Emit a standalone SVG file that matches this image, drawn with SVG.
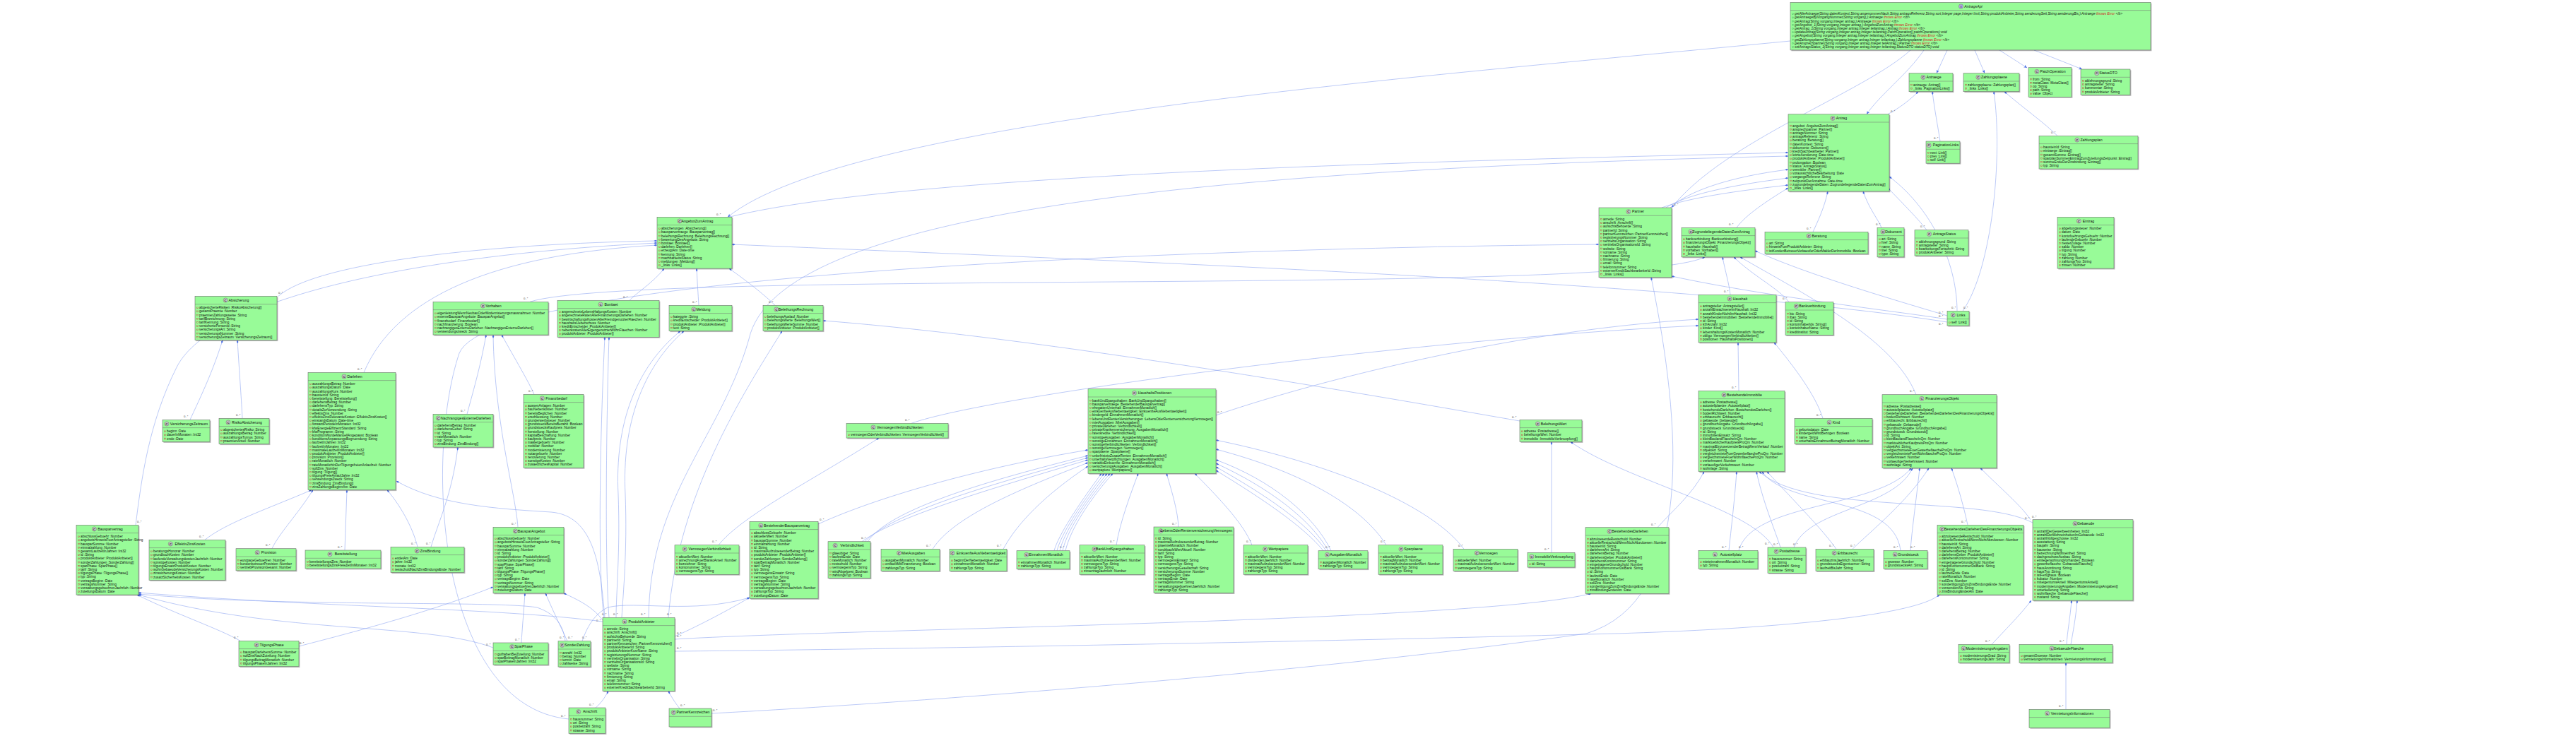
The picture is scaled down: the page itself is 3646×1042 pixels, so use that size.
<svg xmlns="http://www.w3.org/2000/svg" width="3646" height="1042" viewBox="0 0 3646 1042">
<style>
.bx{fill:#98fb98;stroke:#707070;stroke-width:.6}
.sh{fill:#000;opacity:.28;filter:url(#bl);transform:translate(1.4px,1.4px)}
.sp{stroke:#707070;stroke-width:.5;fill:none}
.ci{fill:#c4c4c4;stroke:#5a5a5a;stroke-width:.4}
.ii{fill:#b4a7e5;stroke:#5a5a5a;stroke-width:.4}
.cl{font-family:"Liberation Sans",Arial,sans-serif;font-size:4.4px;font-weight:bold;fill:#222;text-anchor:middle}
.tt{font-family:"Liberation Sans",Arial,sans-serif;font-size:5.2px;fill:#111;text-anchor:middle}
.f{font-family:"Liberation Sans",Arial,sans-serif;font-size:4.8px;fill:#111}
.it{font-style:italic}
.r{fill:#d02020}
.fm{fill:url(#pm)}
.mm{fill:url(#po)}
.c{fill:none;stroke:#8ea6f2;stroke-width:.6}
.k{marker-start:url(#d)}
.a{marker-end:url(#ar)}
.m{font-family:"Liberation Sans",Arial,sans-serif;font-size:4.2px;fill:#444}
</style>
<defs>
<filter id="bl" x="-10%" y="-10%" width="120%" height="120%"><feGaussianBlur stdDeviation="0.7"/></filter>
<pattern id="pm" patternUnits="userSpaceOnUse" x="2.2" y="15.1" width="2.6" height="5.2"><rect x="0.25" y="0.25" width="2" height="2" fill="none" stroke="#c82930" stroke-width="0.45"/></pattern>
<pattern id="po" patternUnits="userSpaceOnUse" x="2.2" y="15.1" width="2.6" height="5.2"><circle cx="1.3" cy="1.25" r="0.95" fill="none" stroke="#1a8a3a" stroke-width="0.45"/></pattern>
<marker id="d" markerWidth="6" markerHeight="4" refX="0" refY="1.3" orient="auto" markerUnits="userSpaceOnUse" overflow="visible"><path d="M0,1.3L2.3,0L4.6,1.3L2.3,2.6z" fill="#4a6de5"/></marker>
<marker id="ar" markerWidth="6" markerHeight="5" refX="4.6" refY="2" orient="auto" markerUnits="userSpaceOnUse" overflow="visible"><path d="M0,0L4.6,2L0,4L1.2,2z" fill="#4a6de5"/></marker>
</defs>
<rect width="3646" height="1042" fill="#ffffff"/>

<g id="connectors">
<path class="c a" d="M2756,71 L2741,103.7"/>
<path class="c a" d="M2795,71 L2809,103.7"/>
<path class="c a" d="M2830,71 L2869,96"/>
<path class="c a" d="M2879,71 L2947,98"/>
<path class="c a" d="M2723,71 C2700,105 2660,135 2642,161.7"/>
<path class="c a" d="M2704,71 C2640,130 2440,200 2366,294"/>
<path class="c a" d="M2534,58 C2000,110 1200,170 1030,307.3"/>

<path class="c k" d="M2715,129.7 C2705,140 2690,152 2672,161.7"/><text class="m" x="2676" y="159">0..*</text>
<path class="c k" d="M2735,129.7 C2738,155 2743,180 2746,200"/><text class="m" x="2737" y="197">0..*</text>
<path class="c k" d="M2837,129.7 C2860,150 2895,175 2912,192.3"/><text class="m" x="2903" y="189">0..*</text>
<path class="c k" d="M2822,129.7 C2835,220 2820,380 2778,440.3"/><text class="m" x="2779" y="437">0..*</text>

<path class="c k" d="M2531,240 C2450,250 2390,270 2364,294"/><text class="m" x="2369" y="291">0..*</text>
<path class="c k" d="M2531,252 C2450,262 2385,276 2358,294"/>
<path class="c k" d="M2531,262 C2460,270 2390,280 2352,294"/>
<path class="c k" d="M2587,270.9 C2582,295 2572,315 2566,328.3"/><text class="m" x="2557" y="325">0..*</text>
<path class="c k" d="M2637,270.9 C2645,295 2658,310 2663,322.3"/><text class="m" x="2655" y="319">0..*</text>
<path class="c k" d="M2672,266 C2695,290 2715,310 2727,325.7"/><text class="m" x="2718" y="322">0..*</text>
<path class="c k" d="M2531,266 C2500,285 2470,305 2458,322.3"/><text class="m" x="2447" y="319">0..*</text>
<path class="c k" d="M2531,216 C2200,225 1300,240 1032,307.3"/><text class="m" x="1014" y="305">0..*</text>
<path class="c k" d="M2531,221 C1700,240 1100,300 1060,480 C1020,620 920,700 918,874.3"/><text class="m" x="907" y="871">0..*</text>
<path class="c k" d="M2674,250 C2740,300 2770,380 2770,440.3"/><text class="m" x="2762" y="437">0..*</text>

<path class="c k" d="M2366,391 C2500,420 2680,440 2756,452"/><text class="m" x="2744" y="449">0..*</text>
<path class="c k" d="M2263,346 C1800,350 700,380 650,500 C600,650 620,1000 805,1018"/><text class="m" x="794" y="1015">0..*</text>
<path class="c k" d="M2337,392.8 C2380,600 2400,850 2245,897 C1800,960 1200,1000 1007,1010"/><text class="m" x="1009" y="1007">0..*</text>

<path class="c k" d="M2454,363.9 C2480,390 2520,410 2532,427.7"/><text class="m" x="2523" y="424">0..*</text>
<path class="c k" d="M2438,363.9 C2442,385 2447,400 2449,417.3"/><text class="m" x="2440" y="414">0..*</text>
<path class="c k" d="M2463,363.9 C2560,420 2680,480 2712,558.7"/><text class="m" x="2703" y="555">0..*</text>
<path class="c k" d="M2413,363.9 C2300,420 900,380 750,427.3"/><text class="m" x="741" y="424">0..*</text>
<path class="c k" d="M2484,355 C2560,390 2700,430 2756,447"/><text class="m" x="2744" y="444">0..*</text>

<path class="c k" d="M2460,484.9 L2461,553.3"/><text class="m" x="2451" y="550">0..*</text>
<path class="c k" d="M2511,484.9 C2540,520 2570,560 2580,592.3"/><text class="m" x="2571" y="589">0..*</text>
<path class="c k" d="M2404,461 C2000,480 1400,560 1290,599.3"/><text class="m" x="1281" y="596">0..*</text>
<path class="c k" d="M2404,452 C2100,470 1800,560 1721,588"/><text class="m" x="1723" y="585">0..*</text>

<path class="c k" d="M2412,667.7 C2395,700 2370,720 2346,746.7"/><text class="m" x="2337" y="744">0..*</text>
<path class="c k" d="M2458,667.7 C2455,710 2450,750 2447,779.3"/><text class="m" x="2437" y="776">0..*</text>
<path class="c k" d="M2486,667.7 C2495,710 2512,750 2520,775"/><text class="m" x="2510" y="772">0..*</text>
<path class="c k" d="M2501,667.7 C2540,710 2580,750 2599,777.3"/><text class="m" x="2589" y="774">0..*</text>
<path class="c k" d="M2494,667.7 C2530,720 2680,700 2690,779.3"/><text class="m" x="2680" y="776">0..*</text>
<path class="c k" d="M2490,667.7 C2560,730 2800,700 2877,740"/><text class="m" x="2866" y="735">0..*</text>
<path class="c k" d="M2707,662.7 C2680,720 2560,720 2539,775"/><text class="m" x="2538" y="772">0..*</text>
<path class="c k" d="M2705,662.7 C2660,720 2480,710 2461,779.3"/><text class="m" x="2461" y="776">0..*</text>
<path class="c k" d="M2762,662.7 C2772,690 2780,720 2785,743.3"/><text class="m" x="2776" y="740">0..*</text>
<path class="c k" d="M2730,662.7 C2700,710 2650,750 2622,777.3"/><text class="m" x="2619" y="774">0..*</text>
<path class="c k" d="M2803,662.7 C2830,690 2860,715 2874,735.7"/><text class="m" x="2876" y="733">0..*</text>
<path class="c k" d="M2717,662.7 C2712,710 2706,750 2704,779.3"/><text class="m" x="2704" y="776">0..*</text>

<path class="c k" d="M2252,840.3 C2100,880 1200,890 955,905"/><text class="m" x="958" y="902">0..*</text>
<path class="c k" d="M2745,842.1 C2700,880 2400,895 2245,898 C1800,910 1200,920 955,922"/><text class="m" x="958" y="919">0..*</text>
<path class="c k" d="M2875,850.1 C2860,870 2835,895 2819,912.3"/><text class="m" x="2810" y="909">0..*</text>
<path class="c k" d="M2932,850.1 C2930,875 2926,895 2925,912.3"/><text class="m" x="2915" y="909">0..*</text>
<path class="c k" d="M2940,850.1 C2938,875 2934,895 2931,912.3"/>
<path class="c k" d="M2924,938.3 L2924,1004.3"/><text class="m" x="2914" y="1001">0..*</text>

<path class="c k" d="M1611,670.3 C1600,700 1585,740 1580,771.7"/><text class="m" x="1571" y="768">0..*</text>
<path class="c k" d="M1651,670.3 C1660,700 1667,725 1668,746"/><text class="m" x="1659" y="743">0..*</text>
<path class="c k" d="M1691,670.3 C1720,700 1760,740 1772,771.7"/><text class="m" x="1764" y="768">0..*</text>
<path class="c k" d="M1721,651 C1800,680 1860,730 1884,779.7"/><text class="m" x="1876" y="776">0..*</text>
<path class="c k" d="M1721,656 C1795,690 1855,735 1880,779.7"/>
<path class="c k" d="M1721,661 C1790,700 1850,740 1877,779.7"/>
<path class="c k" d="M1721,666 C1785,705 1845,745 1873,779.7"/>
<path class="c k" d="M1721,636 C1850,670 1930,720 1962,771.7"/><text class="m" x="1954" y="768">0..*</text>
<path class="c k" d="M1721,623 C1900,660 2030,720 2072,777.3"/><text class="m" x="2064" y="774">0..*</text>
<path class="c k" d="M1540,637 C1400,660 1250,700 1158,742"/><text class="m" x="1160" y="737">0..*</text>
<path class="c k" d="M1540,645 C1400,680 1260,720 1228,766.7"/><text class="m" x="1219" y="763">0..*</text>
<path class="c k" d="M1540,648 C1405,685 1265,725 1224,766.7"/>
<path class="c k" d="M1540,651 C1410,690 1270,730 1220,766.7"/>
<path class="c k" d="M1540,655 C1450,690 1350,730 1320,777.3"/><text class="m" x="1311" y="774">0..*</text>
<path class="c k" d="M1540,660 C1480,700 1440,740 1420,777.3"/><text class="m" x="1411" y="774">0..*</text>
<path class="c k" d="M1575,670.3 C1540,710 1515,750 1508,779.7"/><text class="m" x="1500" y="776">0..*</text>
<path class="c k" d="M1571,670.3 C1536,712 1510,752 1504,779.7"/>
<path class="c k" d="M1567,670.3 C1532,714 1506,754 1500,779.7"/>
<path class="c k" d="M1563,670.3 C1528,716 1502,756 1496,779.7"/>
<path class="c k" d="M1559,670.3 C1524,718 1498,758 1492,779.7"/>

<path class="c k" d="M2196,625.5 L2196,782.3"/><text class="m" x="2186" y="779">0..*</text>
<path class="c k" d="M2223,625.5 C2300,680 2480,720 2510,775"/><text class="m" x="2498" y="771">0..*</text>
<path class="c k" d="M1165,454 C1500,480 2000,570 2151,596"/><text class="m" x="2140" y="592">0..*</text>
<path class="c k" d="M1107,468.7 C1050,560 960,700 946,874.3"/><text class="m" x="944" y="871">0..*</text>

<path class="c k" d="M940,380.1 C925,400 900,415 891,425.3"/><text class="m" x="882" y="422">0..*</text>
<path class="c k" d="M986,380.1 C987,400 988,415 989,432.3"/><text class="m" x="980" y="429">0..*</text>
<path class="c k" d="M1032,380.1 C1060,400 1085,420 1097,432.3"/><text class="m" x="1088" y="429">0..*</text>
<path class="c k" d="M930,341 C700,345 450,370 394,419.3"/><text class="m" x="394" y="416">0..*</text>
<path class="c k" d="M930,344 C600,360 300,420 250,520 C210,600 200,680 192,743.3"/><text class="m" x="194" y="740">0..*</text>
<path class="c k" d="M930,347 C700,360 560,420 515,527.3"/><text class="m" x="506" y="524">0..*</text>
<path class="c k" d="M1036,346 C1600,370 2400,400 2756,456"/><text class="m" x="2744" y="460">0..*</text>

<path class="c k" d="M862,477.3 C858,600 856,800 862,874.3"/><text class="m" x="852" y="871">0..*</text>
<path class="c k" d="M856,477.3 C850,600 845,800 855,876"/><text class="m" x="844" y="880">0..*</text>
<path class="c k" d="M963,468.7 C900,520 870,600 875,700 C878,780 872,840 872,874.3"/><text class="m" x="868" y="871">0..*</text>
<path class="c k" d="M968,468.7 C910,520 880,600 885,700 C888,780 882,840 880,874.3"/>
<path class="c k" d="M1244,620.1 C1150,680 1050,730 1017,771.7"/><text class="m" x="1008" y="768">0..*</text>
<path class="c k" d="M1061,846 C1020,870 980,890 955,901"/><text class="m" x="958" y="898">0..*</text>
<path class="c k" d="M1061,846 C980,870 900,850 860,860 C840,870 830,890 824,907.7"/><text class="m" x="824" y="904">0..*</text>
<path class="c k" d="M861,978.3 C855,990 848,998 843,1002"/><text class="m" x="834" y="999">0..*</text>
<path class="c k" d="M946,978.3 C952,990 958,998 962,1003"/><text class="m" x="963" y="1000">0..*</text>

<path class="c k" d="M315,481.7 C300,530 280,570 269,594.3"/><text class="m" x="260" y="591">0..*</text>
<path class="c k" d="M336,481.7 C339,530 342,570 343,592.3"/><text class="m" x="334" y="589">0..*</text>
<path class="c k" d="M688,474.1 C680,520 668,560 661,586.3"/><text class="m" x="652" y="583">0..*</text>
<path class="c k" d="M698,474.1 C700,600 730,700 733,746.3"/><text class="m" x="724" y="743">0..*</text>
<path class="c k" d="M710,474.1 C730,510 748,540 756,558.3"/><text class="m" x="748" y="555">0..*</text>
<path class="c k" d="M648,633.1 C640,700 620,740 610,774.3"/><text class="m" x="603" y="771">0..*</text>
<path class="c k" d="M491,693.7 L488,779"/><text class="m" x="478" y="776">0..*</text>
<path class="c k" d="M441,693.7 C380,720 320,740 290,764.3"/><text class="m" x="282" y="761">0..*</text>
<path class="c k" d="M443,693.7 C420,730 395,755 385,776.7"/><text class="m" x="376" y="773">0..*</text>
<path class="c k" d="M548,693.7 C570,720 585,750 591,774.3"/><text class="m" x="582" y="771">0..*</text>
<path class="c k" d="M561,681 C620,715 700,720 780,725 C840,730 850,800 856,874.3"/>

<path class="c k" d="M194,842.1 C250,870 310,890 340,907.3"/><text class="m" x="331" y="904">0..*</text>
<path class="c k" d="M196,842 C400,900 600,880 698,917"/><text class="m" x="688" y="914">0..*</text>
<path class="c k" d="M196,841 C400,860 700,850 760,860 C790,870 798,890 800,907.7"/><text class="m" x="792" y="904">0..*</text>
<path class="c k" d="M196,839 C450,860 700,860 853,880"/>
<path class="c k" d="M698,831 C600,870 480,900 423,915"/><text class="m" x="424" y="912">0..*</text>
<path class="c k" d="M743,839.9 C741,870 739,890 738,910"/><text class="m" x="729" y="907">0..*</text>
<path class="c k" d="M772,839.9 C785,870 795,890 803,907.7"/><text class="m" x="804" y="904">0..*</text>
<path class="c k" d="M798,839.9 C820,850 840,860 853,878"/>
</g>

<g id="n-AntragsApi" transform="translate(2534,3.3)"><rect class="sh" width="510" height="67.6"/><rect class="bx" width="510" height="67.6"/><circle class="ii" cx="241.5" cy="5.7" r="3.1"/><text class="cl" x="241.5" y="7.3">I</text><text class="tt it" x="259" y="7.4">AntragsApi</text><path class="sp" d="M0,11.3h510"/><rect class="mm" x="2.2" y="15.1" width="2.6" height="52"/><text class="f it" y="17.9"><tspan x="6">getAlleAntraege(String datenKontext,String angenommenNach,String antragsReferenz,String sort,Integer page,Integer limit,String produktAnbieter,String aenderungSeit,String aenderungBis,):Antraege <tspan class="r">throws Error</tspan> &lt;/b&gt;</tspan><tspan x="6" dy="5.2">getAntraegeByVorgangNummer(String vorgang,):Antraege <tspan class="r">throws Error</tspan> &lt;/b&gt;</tspan><tspan x="6" dy="5.2">getAntrag(String vorgang,Integer antrag,):Antraege <tspan class="r">throws Error</tspan> &lt;/b&gt;</tspan><tspan x="6" dy="5.2">getAngebot_1(String vorgang,Integer antrag,):AngebotZumAntrag <tspan class="r">throws Error</tspan> &lt;/b&gt;</tspan><tspan x="6" dy="5.2">getAntrag_1(String vorgang,Integer antrag,Integer teilantrag,):Antrag <tspan class="r">throws Error</tspan> &lt;/b&gt;</tspan><tspan x="6" dy="5.2">updateAntrag(String vorgang,Integer antrag,Integer teilantrag,PatchOperation[] patchOperations):void</tspan><tspan x="6" dy="5.2">getAngebot(String vorgang,Integer antrag,Integer teilantrag,):AngebotZumAntrag <tspan class="r">throws Error</tspan> &lt;/b&gt;</tspan><tspan x="6" dy="5.2">getZahlungsplaene(String vorgang,Integer antrag,Integer teilantrag,):Zahlungsplaene <tspan class="r">throws Error</tspan> &lt;/b&gt;</tspan><tspan x="6" dy="5.2">getAnsprechpartner(String vorgang,Integer antrag,Integer teilAntrag,):Partner <tspan class="r">throws Error</tspan> &lt;/b&gt;</tspan><tspan x="6" dy="5.2">setAntragsStatus_1(String vorgang,Integer antrag,Integer teilantrag,StatusDTO statusDTO):void</tspan></text></g>

<g id="n-Antraege" transform="translate(2702,103.7)"><rect class="sh" width="62" height="26"/><rect class="bx" width="62" height="26"/><circle class="ci" cx="20" cy="5.7" r="3.1"/><text class="cl" x="20" y="7.3">C</text><text class="tt" x="35" y="7.4">Antraege</text><path class="sp" d="M0,11.3h62"/><rect class="fm" x="2.2" y="15.1" width="2.6" height="10.4"/><text class="f" y="17.9"><tspan x="6">antraege :Antrag[]</tspan><tspan x="6" dy="5.2">_links :PaginationLinks[]</tspan></text></g>

<g id="n-Zahlungsplaene" transform="translate(2779,103.7)"><rect class="sh" width="79" height="26"/><rect class="bx" width="79" height="26"/><circle class="ci" cx="20.9" cy="5.7" r="3.1"/><text class="cl" x="20.9" y="7.3">C</text><text class="tt" x="43.5" y="7.4">Zahlungsplaene</text><path class="sp" d="M0,11.3h79"/><rect class="fm" x="2.2" y="15.1" width="2.6" height="10.4"/><text class="f" y="17.9"><tspan x="6">zahlungsplaene :Zahlungsplan[]</tspan><tspan x="6" dy="5.2">_links :Links[]</tspan></text></g>

<g id="n-PatchOperation" transform="translate(2871,95.7)"><rect class="sh" width="61" height="41.6"/><rect class="bx" width="61" height="41.6"/><circle class="ci" cx="11.9" cy="5.7" r="3.1"/><text class="cl" x="11.9" y="7.3">C</text><text class="tt" x="34.5" y="7.4">PatchOperation</text><path class="sp" d="M0,11.3h61"/><rect class="fm" x="2.2" y="15.1" width="2.6" height="26"/><text class="f" y="17.9"><tspan x="6">from :String</tspan><tspan x="6" dy="5.2">metaClass :MetaClass[]</tspan><tspan x="6" dy="5.2">op :String</tspan><tspan x="6" dy="5.2">path :String</tspan><tspan x="6" dy="5.2">value :Object</tspan></text></g>

<g id="n-StatusDTO" transform="translate(2945,98)"><rect class="sh" width="70" height="36.4"/><rect class="bx" width="70" height="36.4"/><circle class="ci" cx="22.7" cy="5.7" r="3.1"/><text class="cl" x="22.7" y="7.3">C</text><text class="tt" x="39" y="7.4">StatusDTO</text><path class="sp" d="M0,11.3h70"/><rect class="fm" x="2.2" y="15.1" width="2.6" height="20.8"/><text class="f" y="17.9"><tspan x="6">ablehnungsgrund :String</tspan><tspan x="6" dy="5.2">antragsteller :String</tspan><tspan x="6" dy="5.2">kommentar :String</tspan><tspan x="6" dy="5.2">produktAnbieter :String</tspan></text></g>

<g id="n-Antrag" transform="translate(2531,161.7)"><rect class="sh" width="143" height="109.2"/><rect class="bx" width="143" height="109.2"/><circle class="ci" cx="63" cy="5.7" r="3.1"/><text class="cl" x="63" y="7.3">C</text><text class="tt" x="75.5" y="7.4">Antrag</text><path class="sp" d="M0,11.3h143"/><rect class="fm" x="2.2" y="15.1" width="2.6" height="93.6"/><text class="f" y="17.9"><tspan x="6">angebot :AngebotZumAntrag[]</tspan><tspan x="6" dy="5.2">ansprechpartner :Partner[]</tspan><tspan x="6" dy="5.2">antragsNummer :String</tspan><tspan x="6" dy="5.2">antragsReferenz :String</tspan><tspan x="6" dy="5.2">beratung :Beratung[]</tspan><tspan x="6" dy="5.2">datenKontext :String</tspan><tspan x="6" dy="5.2">dokumente :Dokument[]</tspan><tspan x="6" dy="5.2">kreditSachbearbeiter :Partner[]</tspan><tspan x="6" dy="5.2">letzteAenderung :Date-time</tspan><tspan x="6" dy="5.2">produktAnbieter :ProduktAnbieter[]</tspan><tspan x="6" dy="5.2">prolongation :Boolean</tspan><tspan x="6" dy="5.2">status :AntragsStatus[]</tspan><tspan x="6" dy="5.2">vermittler :Partner[]</tspan><tspan x="6" dy="5.2">voraussichtlicheBearbeitung :Date</tspan><tspan x="6" dy="5.2">vorgangsReferenz :String</tspan><tspan x="6" dy="5.2">zeitpunktDerAnnahme :Date-time</tspan><tspan x="6" dy="5.2">zugrundeliegendeDaten :ZugrundeliegendeDatenZumAntrag[]</tspan><tspan x="6" dy="5.2">_links :Links[]</tspan></text></g>

<g id="n-PaginationLinks" transform="translate(2726,200)"><rect class="sh" width="48" height="31.2"/><rect class="bx" width="48" height="31.2"/><circle class="ci" cx="4.1" cy="5.7" r="3.1"/><text class="cl" x="4.1" y="7.3">C</text><text class="tt" x="28" y="7.4">PaginationLinks</text><path class="sp" d="M0,11.3h48"/><rect class="fm" x="2.2" y="15.1" width="2.6" height="15.6"/><text class="f" y="17.9"><tspan x="6">next :Link[]</tspan><tspan x="6" dy="5.2">prev :Link[]</tspan><tspan x="6" dy="5.2">self :Link[]</tspan></text></g>

<g id="n-Zahlungsplan" transform="translate(2886,192.3)"><rect class="sh" width="140" height="46.8"/><rect class="bx" width="140" height="46.8"/><circle class="ci" cx="53.9" cy="5.7" r="3.1"/><text class="cl" x="53.9" y="7.3">C</text><text class="tt" x="74" y="7.4">Zahlungsplan</text><path class="sp" d="M0,11.3h140"/><rect class="fm" x="2.2" y="15.1" width="2.6" height="31.2"/><text class="f" y="17.9"><tspan x="6">bausteinId :String</tspan><tspan x="6" dy="5.2">eintraege :Eintrag[]</tspan><tspan x="6" dy="5.2">gesamtSumme :Eintrag[]</tspan><tspan x="6" dy="5.2">sparplanSummenEintragZumZuteilungsZeitpunkt :Eintrag[]</tspan><tspan x="6" dy="5.2">summeEndeDerZinsbindung :Eintrag[]</tspan><tspan x="6" dy="5.2">typ :String</tspan></text></g>

<g id="n-Partner" transform="translate(2263,294)"><rect class="sh" width="103" height="98.8"/><rect class="bx" width="103" height="98.8"/><circle class="ci" cx="41.8" cy="5.7" r="3.1"/><text class="cl" x="41.8" y="7.3">C</text><text class="tt" x="55.5" y="7.4">Partner</text><path class="sp" d="M0,11.3h103"/><rect class="fm" x="2.2" y="15.1" width="2.6" height="83.2"/><text class="f" y="17.9"><tspan x="6">anrede :String</tspan><tspan x="6" dy="5.2">anschrift :Anschrift[]</tspan><tspan x="6" dy="5.2">aufsichtsBehoerde :String</tspan><tspan x="6" dy="5.2">partnerId :String</tspan><tspan x="6" dy="5.2">partnerKennzeichen :PartnerKennzeichen[]</tspan><tspan x="6" dy="5.2">registrierungsNummer :String</tspan><tspan x="6" dy="5.2">vertriebsOrganisation :String</tspan><tspan x="6" dy="5.2">vertriebsOrganisationsId :String</tspan><tspan x="6" dy="5.2">website :String</tspan><tspan x="6" dy="5.2">vorname :String</tspan><tspan x="6" dy="5.2">nachname :String</tspan><tspan x="6" dy="5.2">firmierung :String</tspan><tspan x="6" dy="5.2">email :String</tspan><tspan x="6" dy="5.2">telefonnummer :String</tspan><tspan x="6" dy="5.2">externerKreditSachbearbeiterId :String</tspan><tspan x="6" dy="5.2">_links :Links[]</tspan></text></g>

<g id="n-ZugrundeliegendeDatenZumAntrag" transform="translate(2380,322.3)"><rect class="sh" width="104" height="41.6"/><rect class="bx" width="104" height="41.6"/><circle class="ci" cx="13" cy="5.7" r="3.1"/><text class="cl" x="13" y="7.3">C</text><text class="tt" x="56" y="7.4">ZugrundeliegendeDatenZumAntrag</text><path class="sp" d="M0,11.3h104"/><rect class="fm" x="2.2" y="15.1" width="2.6" height="26"/><text class="f" y="17.9"><tspan x="6">bankverbindung :Bankverbindung[]</tspan><tspan x="6" dy="5.2">finanzierungsObjekt :FinanzierungsObjekt[]</tspan><tspan x="6" dy="5.2">haushalte :Haushalt[]</tspan><tspan x="6" dy="5.2">vorhaben :Vorhaben[]</tspan><tspan x="6" dy="5.2">_links :Links[]</tspan></text></g>

<g id="n-Beratung" transform="translate(2498,328.3)"><rect class="sh" width="146" height="31.2"/><rect class="bx" width="146" height="31.2"/><circle class="ci" cx="62" cy="5.7" r="3.1"/><text class="cl" x="62" y="7.3">C</text><text class="tt" x="77" y="7.4">Beratung</text><path class="sp" d="M0,11.3h146"/><rect class="fm" x="2.2" y="15.1" width="2.6" height="15.6"/><text class="f" y="17.9"><tspan x="6">art :String</tspan><tspan x="6" dy="5.2">hinweisFuerProduktAnbieter :String</tspan><tspan x="6" dy="5.2">istKundenBetreuerVerkaeuferOderMaklerDerImmobilie :Boolean</tspan></text></g>

<g id="n-Dokument" transform="translate(2657,322.3)"><rect class="sh" width="38" height="41.6"/><rect class="bx" width="38" height="41.6"/><circle class="ci" cx="8" cy="5.7" r="3.1"/><text class="cl" x="8" y="7.3">C</text><text class="tt" x="23" y="7.4">Dokument</text><path class="sp" d="M0,11.3h38"/><rect class="fm" x="2.2" y="15.1" width="2.6" height="26"/><text class="f" y="17.9"><tspan x="6">art :String</tspan><tspan x="6" dy="5.2">href :String</tspan><tspan x="6" dy="5.2">name :String</tspan><tspan x="6" dy="5.2">titel :String</tspan><tspan x="6" dy="5.2">type :String</tspan></text></g>

<g id="n-AntragsStatus" transform="translate(2710,325.7)"><rect class="sh" width="76" height="36.4"/><rect class="bx" width="76" height="36.4"/><circle class="ci" cx="20.6" cy="5.7" r="3.1"/><text class="cl" x="20.6" y="7.3">C</text><text class="tt" x="42" y="7.4">AntragsStatus</text><path class="sp" d="M0,11.3h76"/><rect class="fm" x="2.2" y="15.1" width="2.6" height="20.8"/><text class="f" y="17.9"><tspan x="6">ablehnungsgrund :String</tspan><tspan x="6" dy="5.2">antragsteller :String</tspan><tspan x="6" dy="5.2">bearbeitungsFortschritt :String</tspan><tspan x="6" dy="5.2">produktAnbieter :String</tspan></text></g>

<g id="n-Eintrag" transform="translate(2912,307.3)"><rect class="sh" width="80" height="72.8"/><rect class="bx" width="80" height="72.8"/><circle class="ci" cx="30.3" cy="5.7" r="3.1"/><text class="cl" x="30.3" y="7.3">C</text><text class="tt" x="44" y="7.4">Eintrag</text><path class="sp" d="M0,11.3h80"/><rect class="fm" x="2.2" y="15.1" width="2.6" height="57.2"/><text class="f" y="17.9"><tspan x="6">abgeltungssteuer :Number</tspan><tspan x="6" dy="5.2">datum :Date</tspan><tspan x="6" dy="5.2">kontofuehrungsGebuehr :Number</tspan><tspan x="6" dy="5.2">laufendeGebuehr :Number</tspan><tspan x="6" dy="5.2">riesterZulage :Number</tspan><tspan x="6" dy="5.2">saldo :Number</tspan><tspan x="6" dy="5.2">tilgung :Number</tspan><tspan x="6" dy="5.2">typ :String</tspan><tspan x="6" dy="5.2">zahlung :Number</tspan><tspan x="6" dy="5.2">zahlungsTyp :String</tspan><tspan x="6" dy="5.2">zinsen :Number</tspan></text></g>

<g id="n-Haushalt" transform="translate(2404,417.3)"><rect class="sh" width="110" height="67.6"/><rect class="bx" width="110" height="67.6"/><circle class="ci" cx="44" cy="5.7" r="3.1"/><text class="cl" x="44" y="7.3">C</text><text class="tt" x="59" y="7.4">Haushalt</text><path class="sp" d="M0,11.3h110"/><rect class="fm" x="2.2" y="15.1" width="2.6" height="52"/><text class="f" y="17.9"><tspan x="6">antragsteller :Antragsteller[]</tspan><tspan x="6" dy="5.2">anzahlErwachseneImHaushalt :Int32</tspan><tspan x="6" dy="5.2">anzahlKinderNichtImHaushalt :Int32</tspan><tspan x="6" dy="5.2">bestehendeImmobilien :BestehendeImmobilie[]</tspan><tspan x="6" dy="5.2">id :String</tspan><tspan x="6" dy="5.2">kfzAnzahl :Int32</tspan><tspan x="6" dy="5.2">kinder :Kind[]</tspan><tspan x="6" dy="5.2">lebenshaltungsKostenMonatlich :Number</tspan><tspan x="6" dy="5.2">obligo :VermoegenVerbindlichkeiten[]</tspan><tspan x="6" dy="5.2">positionen :HaushaltsPositionen[]</tspan></text></g>

<g id="n-Bankverbindung" transform="translate(2527,427.7)"><rect class="sh" width="68" height="46.8"/><rect class="bx" width="68" height="46.8"/><circle class="ci" cx="15.4" cy="5.7" r="3.1"/><text class="cl" x="15.4" y="7.3">C</text><text class="tt" x="38" y="7.4">Bankverbindung</text><path class="sp" d="M0,11.3h68"/><rect class="fm" x="2.2" y="15.1" width="2.6" height="31.2"/><text class="f" y="17.9"><tspan x="6">bic :String</tspan><tspan x="6" dy="5.2">iban :String</tspan><tspan x="6" dy="5.2">id :String</tspan><tspan x="6" dy="5.2">kontoinhaberIds :String[]</tspan><tspan x="6" dy="5.2">kontoinhaberName :String</tspan><tspan x="6" dy="5.2">kreditinstitut :String</tspan></text></g>

<g id="n-Links" transform="translate(2756,440.3)"><rect class="sh" width="31" height="20.8"/><rect class="bx" width="31" height="20.8"/><circle class="ci" cx="8.3" cy="5.7" r="3.1"/><text class="cl" x="8.3" y="7.3">C</text><text class="tt" x="19.5" y="7.4">Links</text><path class="sp" d="M0,11.3h31"/><rect class="fm" x="2.2" y="15.1" width="2.6" height="5.2"/><text class="f" y="17.9"><tspan x="6">self :Link[]</tspan></text></g>

<g id="n-BestehendeImmobilie" transform="translate(2404,553.3)"><rect class="sh" width="122" height="114.4"/><rect class="bx" width="122" height="114.4"/><circle class="ci" cx="36" cy="5.7" r="3.1"/><text class="cl" x="36" y="7.3">C</text><text class="tt" x="65" y="7.4">BestehendeImmobilie</text><path class="sp" d="M0,11.3h122"/><rect class="fm" x="2.2" y="15.1" width="2.6" height="98.8"/><text class="f" y="17.9"><tspan x="6">adresse :Postadresse[]</tspan><tspan x="6" dy="5.2">autostellplaetze :Autostellplatz[]</tspan><tspan x="6" dy="5.2">bestehendeDarlehen :BestehendesDarlehen[]</tspan><tspan x="6" dy="5.2">bodenRichtwert :Number</tspan><tspan x="6" dy="5.2">erbbaurecht :Erbbaurecht[]</tspan><tspan x="6" dy="5.2">gebaeude :Gebaeude[]</tspan><tspan x="6" dy="5.2">grundbuchAngabe :GrundbuchAngabe[]</tspan><tspan x="6" dy="5.2">grundstueck :Grundstueck[]</tspan><tspan x="6" dy="5.2">id :String</tspan><tspan x="6" dy="5.2">immobilienEinsatz :String</tspan><tspan x="6" dy="5.2">kleinBaulandFlaecheInQm :Number</tspan><tspan x="6" dy="5.2">marktueblicherKaufpreisProQm :Number</tspan><tspan x="6" dy="5.2">maximalEinzusetzenderBetragWennVerkauf :Number</tspan><tspan x="6" dy="5.2">objektArt :String</tspan><tspan x="6" dy="5.2">vergleichsmieteFuerGewerbeflaecheProQm :Number</tspan><tspan x="6" dy="5.2">vergleichsmieteFuerWohnflaecheProQm :Number</tspan><tspan x="6" dy="5.2">verkehrswert :Number</tspan><tspan x="6" dy="5.2">vorlaeufigerVerkehrswert :Number</tspan><tspan x="6" dy="5.2">wohnlage :String</tspan></text></g>

<g id="n-Kind" transform="translate(2540,592.3)"><rect class="sh" width="110" height="36.4"/><rect class="bx" width="110" height="36.4"/><circle class="ci" cx="49.1" cy="5.7" r="3.1"/><text class="cl" x="49.1" y="7.3">C</text><text class="tt" x="59" y="7.4">Kind</text><path class="sp" d="M0,11.3h110"/><rect class="fm" x="2.2" y="15.1" width="2.6" height="20.8"/><text class="f" y="17.9"><tspan x="6">geburtsdatum :Date</tspan><tspan x="6" dy="5.2">kindergeldWirdBezogen :Boolean</tspan><tspan x="6" dy="5.2">name :String</tspan><tspan x="6" dy="5.2">unterhaltsEinnahmenBetragMonatlich :Number</tspan></text></g>

<g id="n-FinanzierungsObjekt" transform="translate(2664,558.7)"><rect class="sh" width="162" height="104"/><rect class="bx" width="162" height="104"/><circle class="ci" cx="56" cy="5.7" r="3.1"/><text class="cl" x="56" y="7.3">C</text><text class="tt" x="85" y="7.4">FinanzierungsObjekt</text><path class="sp" d="M0,11.3h162"/><rect class="fm" x="2.2" y="15.1" width="2.6" height="88.4"/><text class="f" y="17.9"><tspan x="6">adresse :Postadresse[]</tspan><tspan x="6" dy="5.2">autostellplaetze :Autostellplatz[]</tspan><tspan x="6" dy="5.2">bestehendeDarlehen :BestehendesDarlehenDesFinanzierungsObjekts[]</tspan><tspan x="6" dy="5.2">bodenRichtwert :Number</tspan><tspan x="6" dy="5.2">erbbaurecht :Erbbaurecht[]</tspan><tspan x="6" dy="5.2">gebaeude :Gebaeude[]</tspan><tspan x="6" dy="5.2">grundbuchAngabe :GrundbuchAngabe[]</tspan><tspan x="6" dy="5.2">grundstueck :Grundstueck[]</tspan><tspan x="6" dy="5.2">id :String</tspan><tspan x="6" dy="5.2">kleinBaulandFlaecheInQm :Number</tspan><tspan x="6" dy="5.2">marktueblicherKaufpreisProQm :Number</tspan><tspan x="6" dy="5.2">objektArt :String</tspan><tspan x="6" dy="5.2">vergleichsmieteFuerGewerbeflaecheProQm :Number</tspan><tspan x="6" dy="5.2">vergleichsmieteFuerWohnflaecheProQm :Number</tspan><tspan x="6" dy="5.2">verkehrswert :Number</tspan><tspan x="6" dy="5.2">vorlaeufigerVerkehrswert :Number</tspan><tspan x="6" dy="5.2">wohnlage :String</tspan></text></g>

<g id="n-BestehendesDarlehen" transform="translate(2244,746.7)"><rect class="sh" width="118" height="93.6"/><rect class="bx" width="118" height="93.6"/><circle class="ci" cx="34" cy="5.7" r="3.1"/><text class="cl" x="34" y="7.3">C</text><text class="tt" x="63" y="7.4">BestehendesDarlehen</text><path class="sp" d="M0,11.3h118"/><rect class="fm" x="2.2" y="15.1" width="2.6" height="78"/><text class="f" y="17.9"><tspan x="6">abzuloesendeRestschuld :Number</tspan><tspan x="6" dy="5.2">aktuelleRestschuldWennNichtAbzuloesen :Number</tspan><tspan x="6" dy="5.2">bausteinId :String</tspan><tspan x="6" dy="5.2">darlehensArt :String</tspan><tspan x="6" dy="5.2">darlehensBetrag :Number</tspan><tspan x="6" dy="5.2">darlehensGeber :ProduktAnbieter[]</tspan><tspan x="6" dy="5.2">darlehensKontonummer :String</tspan><tspan x="6" dy="5.2">eingetrageneGrundschuld :Number</tspan><tspan x="6" dy="5.2">hauptKontonummerDslBank :String</tspan><tspan x="6" dy="5.2">id :String</tspan><tspan x="6" dy="5.2">laufzeitEnde :Date</tspan><tspan x="6" dy="5.2">rateMonatlich :Number</tspan><tspan x="6" dy="5.2">sollZins :Number</tspan><tspan x="6" dy="5.2">sondertilgungZumZinsBindungsEnde :Number</tspan><tspan x="6" dy="5.2">zinsBindungEndetAm :Date</tspan></text></g>

<g id="n-Autostellplatz" transform="translate(2404,779.3)"><rect class="sh" width="84" height="26"/><rect class="bx" width="84" height="26"/><circle class="ci" cx="23.4" cy="5.7" r="3.1"/><text class="cl" x="23.4" y="7.3">C</text><text class="tt" x="46" y="7.4">Autostellplatz</text><path class="sp" d="M0,11.3h84"/><rect class="fm" x="2.2" y="15.1" width="2.6" height="10.4"/><text class="f" y="17.9"><tspan x="6">mieteinnahmenMonatlich :Number</tspan><tspan x="6" dy="5.2">typ :String</tspan></text></g>

<g id="n-Postadresse" transform="translate(2502,775)"><rect class="sh" width="54" height="36.4"/><rect class="bx" width="54" height="36.4"/><circle class="ci" cx="12.2" cy="5.7" r="3.1"/><text class="cl" x="12.2" y="7.3">C</text><text class="tt" x="31" y="7.4">Postadresse</text><path class="sp" d="M0,11.3h54"/><rect class="fm" x="2.2" y="15.1" width="2.6" height="20.8"/><text class="f" y="17.9"><tspan x="6">hausnummer :String</tspan><tspan x="6" dy="5.2">ort :String</tspan><tspan x="6" dy="5.2">postleitzahl :String</tspan><tspan x="6" dy="5.2">strasse :String</tspan></text></g>

<g id="n-Erbbaurecht" transform="translate(2570,777.3)"><rect class="sh" width="82" height="31.2"/><rect class="bx" width="82" height="31.2"/><circle class="ci" cx="26.2" cy="5.7" r="3.1"/><text class="cl" x="26.2" y="7.3">C</text><text class="tt" x="45" y="7.4">Erbbaurecht</text><path class="sp" d="M0,11.3h82"/><rect class="fm" x="2.2" y="15.1" width="2.6" height="15.6"/><text class="f" y="17.9"><tspan x="6">erbbauzinsJaehrlich :Number</tspan><tspan x="6" dy="5.2">grundstuecksEigentuemer :String</tspan><tspan x="6" dy="5.2">laufzeitBisJahr :String</tspan></text></g>

<g id="n-Grundstueck" transform="translate(2666,779.3)"><rect class="sh" width="62" height="26"/><rect class="bx" width="62" height="26"/><circle class="ci" cx="16.2" cy="5.7" r="3.1"/><text class="cl" x="16.2" y="7.3">C</text><text class="tt" x="35" y="7.4">Grundstueck</text><path class="sp" d="M0,11.3h62"/><rect class="fm" x="2.2" y="15.1" width="2.6" height="10.4"/><text class="f" y="17.9"><tspan x="6">groesse :Number</tspan><tspan x="6" dy="5.2">grundstuecksArt :String</tspan></text></g>

<g id="n-BestehendesDarlehenDesFinanzierungsObjekts" transform="translate(2742,743.3)"><rect class="sh" width="122" height="98.8"/><rect class="bx" width="122" height="98.8"/><circle class="ci" cx="6.7" cy="5.7" r="3.1"/><text class="cl" x="6.7" y="7.3">C</text><text class="tt" x="65" y="7.4">BestehendesDarlehenDesFinanzierungsObjekts</text><path class="sp" d="M0,11.3h122"/><rect class="fm" x="2.2" y="15.1" width="2.6" height="83.2"/><text class="f" y="17.9"><tspan x="6">abzuloesendeRestschuld :Number</tspan><tspan x="6" dy="5.2">aktuelleRestschuldWennNichtAbzuloesen :Number</tspan><tspan x="6" dy="5.2">bausteinId :String</tspan><tspan x="6" dy="5.2">darlehensArt :String</tspan><tspan x="6" dy="5.2">darlehensBetrag :Number</tspan><tspan x="6" dy="5.2">darlehensGeber :ProduktAnbieter[]</tspan><tspan x="6" dy="5.2">darlehensKontonummer :String</tspan><tspan x="6" dy="5.2">eingetrageneGrundschuld :Number</tspan><tspan x="6" dy="5.2">hauptKontonummerDslBank :String</tspan><tspan x="6" dy="5.2">id :String</tspan><tspan x="6" dy="5.2">laufzeitEnde :Date</tspan><tspan x="6" dy="5.2">rateMonatlich :Number</tspan><tspan x="6" dy="5.2">sollZins :Number</tspan><tspan x="6" dy="5.2">sondertilgungZumZinsBindungsEnde :Number</tspan><tspan x="6" dy="5.2">verwendenAls :String</tspan><tspan x="6" dy="5.2">zinsBindungEndetAm :Date</tspan></text></g>

<g id="n-Gebaeude" transform="translate(2877,735.7)"><rect class="sh" width="142" height="114.4"/><rect class="bx" width="142" height="114.4"/><circle class="ci" cx="60" cy="5.7" r="3.1"/><text class="cl" x="60" y="7.3">C</text><text class="tt" x="75" y="7.4">Gebaeude</text><path class="sp" d="M0,11.3h142"/><rect class="fm" x="2.2" y="15.1" width="2.6" height="98.8"/><text class="f" y="17.9"><tspan x="6">anzahlDerGewerbeeinheiten :Int32</tspan><tspan x="6" dy="5.2">anzahlDerWohneinheitenImGebaeude :Int32</tspan><tspan x="6" dy="5.2">anzahlVollgeschosse :Int32</tspan><tspan x="6" dy="5.2">ausstattung :String</tspan><tspan x="6" dy="5.2">baujahr :String</tspan><tspan x="6" dy="5.2">bauweise :String</tspan><tspan x="6" dy="5.2">bezeichnungWohneinheit :String</tspan><tspan x="6" dy="5.2">dachgeschossAusbau :String</tspan><tspan x="6" dy="5.2">einliegerwohnungVorhanden :Boolean</tspan><tspan x="6" dy="5.2">gewerbeflaeche :GebaeudeFlaeche[]</tspan><tspan x="6" dy="5.2">hausAnordnung :String</tspan><tspan x="6" dy="5.2">hausTyp :String</tspan><tspan x="6" dy="5.2">istFertighaus :Boolean</tspan><tspan x="6" dy="5.2">kubatur :Number</tspan><tspan x="6" dy="5.2">miteigentumsAnteil :MiteigentumsAnteil[]</tspan><tspan x="6" dy="5.2">modernisierungsAngaben :ModernisierungsAngaben[]</tspan><tspan x="6" dy="5.2">unterkellerung :String</tspan><tspan x="6" dy="5.2">wohnflaeche :GebaeudeFlaeche[]</tspan><tspan x="6" dy="5.2">zustand :String</tspan></text></g>

<g id="n-ModernisierungsAngaben" transform="translate(2772,912.3)"><rect class="sh" width="72" height="26"/><rect class="bx" width="72" height="26"/><circle class="ci" cx="7.2" cy="5.7" r="3.1"/><text class="cl" x="7.2" y="7.3">C</text><text class="tt" x="40" y="7.4">ModernisierungsAngaben</text><path class="sp" d="M0,11.3h72"/><rect class="fm" x="2.2" y="15.1" width="2.6" height="10.4"/><text class="f" y="17.9"><tspan x="6">modernisierungsGrad :String</tspan><tspan x="6" dy="5.2">modernisierungsJahr :String</tspan></text></g>

<g id="n-GebaeudeFlaeche" transform="translate(2858,912.3)"><rect class="sh" width="132" height="26"/><rect class="bx" width="132" height="26"/><circle class="ci" cx="46" cy="5.7" r="3.1"/><text class="cl" x="46" y="7.3">C</text><text class="tt" x="70" y="7.4">GebaeudeFlaeche</text><path class="sp" d="M0,11.3h132"/><rect class="fm" x="2.2" y="15.1" width="2.6" height="10.4"/><text class="f" y="17.9"><tspan x="6">gesamtGroesse :Number</tspan><tspan x="6" dy="5.2">vermietungsInformationen :VermietungsInformationen[]</tspan></text></g>

<g id="n-VermietungsInformationen" transform="translate(2872,1004.3)"><rect class="sh" width="114" height="26"/><rect class="bx" width="114" height="26"/><circle class="ci" cx="25.6" cy="5.7" r="3.1"/><text class="cl" x="25.6" y="7.3">C</text><text class="tt" x="61" y="7.4">VermietungsInformationen</text><path class="sp" d="M0,11.3h114"/></g>

<g id="n-HaushaltsPositionen" transform="translate(1540,550.7)"><rect class="sh" width="181" height="119.6"/><rect class="bx" width="181" height="119.6"/><circle class="ci" cx="65.5" cy="5.7" r="3.1"/><text class="cl" x="65.5" y="7.3">C</text><text class="tt" x="94.5" y="7.4">HaushaltsPositionen</text><path class="sp" d="M0,11.3h181"/><rect class="fm" x="2.2" y="15.1" width="2.6" height="104"/><text class="f" y="17.9"><tspan x="6">bankUndSparguthaben :BankUndSparguthaben[]</tspan><tspan x="6" dy="5.2">bausparvertraege :BestehenderBausparvertrag[]</tspan><tspan x="6" dy="5.2">ehegattenUnterhalt :EinnahmenMonatlich[]</tspan><tspan x="6" dy="5.2">einkuenfteAusNebentaetigkeit :EinkuenfteAusNebentaetigkeit[]</tspan><tspan x="6" dy="5.2">kindergeld :EinnahmenMonatlich[]</tspan><tspan x="6" dy="5.2">lebensUndRentenVersicherungen :LebensOderRentenversicherungVermoegen[]</tspan><tspan x="6" dy="5.2">mietAusgaben :MietAusgaben[]</tspan><tspan x="6" dy="5.2">privateDarlehen :Verbindlichkeit[]</tspan><tspan x="6" dy="5.2">privateKrankenversicherung :AusgabenMonatlich[]</tspan><tspan x="6" dy="5.2">ratenkredite :Verbindlichkeit[]</tspan><tspan x="6" dy="5.2">sonstigeAusgaben :AusgabenMonatlich[]</tspan><tspan x="6" dy="5.2">sonstigeEinnahmen :EinnahmenMonatlich[]</tspan><tspan x="6" dy="5.2">sonstigeVerbindlichkeiten :Verbindlichkeit[]</tspan><tspan x="6" dy="5.2">sonstigeVermoegen :Vermoegen[]</tspan><tspan x="6" dy="5.2">sparplaene :Sparplaene[]</tspan><tspan x="6" dy="5.2">unbefristeteZusatzRenten :EinnahmenMonatlich[]</tspan><tspan x="6" dy="5.2">unterhaltsVerpflichtungen :AusgabenMonatlich[]</tspan><tspan x="6" dy="5.2">variableEinkuenfte :EinnahmenMonatlich[]</tspan><tspan x="6" dy="5.2">versicherungsAusgaben :AusgabenMonatlich[]</tspan><tspan x="6" dy="5.2">wertpapiere :Wertpapiere[]</tspan></text></g>

<g id="n-BeleihungsWert" transform="translate(2151,594.3)"><rect class="sh" width="88" height="31.2"/><rect class="bx" width="88" height="31.2"/><circle class="ci" cx="25.4" cy="5.7" r="3.1"/><text class="cl" x="25.4" y="7.3">C</text><text class="tt" x="48" y="7.4">BeleihungsWert</text><path class="sp" d="M0,11.3h88"/><rect class="fm" x="2.2" y="15.1" width="2.6" height="15.6"/><text class="f" y="17.9"><tspan x="6">adresse :Postadresse[]</tspan><tspan x="6" dy="5.2">beleihungsWert :Number</tspan><tspan x="6" dy="5.2">immobilie :ImmobilieVerknuepfung[]</tspan></text></g>

<g id="n-BankUndSparguthaben" transform="translate(1528,771.7)"><rect class="sh" width="92" height="41.6"/><rect class="bx" width="92" height="41.6"/><circle class="ci" cx="21" cy="5.7" r="3.1"/><text class="cl" x="21" y="7.3">C</text><text class="tt" x="50" y="7.4">BankUndSparguthaben</text><path class="sp" d="M0,11.3h92"/><rect class="fm" x="2.2" y="15.1" width="2.6" height="26"/><text class="f" y="17.9"><tspan x="6">aktuellerWert :Number</tspan><tspan x="6" dy="5.2">maximalAufzuloesenderWert :Number</tspan><tspan x="6" dy="5.2">vermoegensTyp :String</tspan><tspan x="6" dy="5.2">zahlungsTyp :String</tspan><tspan x="6" dy="5.2">zinsertragJaehrlich :Number</tspan></text></g>

<g id="n-LebensOderRentenversicherungVermoegen" transform="translate(1633,746)"><rect class="sh" width="113" height="93.6"/><rect class="bx" width="113" height="93.6"/><circle class="ci" cx="9.8" cy="5.7" r="3.1"/><text class="cl" x="9.8" y="7.3">C</text><text class="tt" x="60.5" y="7.4">LebensOderRentenversicherungVermoegen</text><path class="sp" d="M0,11.3h113"/><rect class="fm" x="2.2" y="15.1" width="2.6" height="78"/><text class="f" y="17.9"><tspan x="6">id :String</tspan><tspan x="6" dy="5.2">maximalAufzuloesenderBetrag :Number</tspan><tspan x="6" dy="5.2">praemieMonatlich :Number</tspan><tspan x="6" dy="5.2">rueckkaufsWertAktuell :Number</tspan><tspan x="6" dy="5.2">tarif :String</tspan><tspan x="6" dy="5.2">typ :String</tspan><tspan x="6" dy="5.2">vermoegensEinsatz :String</tspan><tspan x="6" dy="5.2">vermoegensTyp :String</tspan><tspan x="6" dy="5.2">versicherungsGesellschaft :String</tspan><tspan x="6" dy="5.2">versicherungsSumme :Number</tspan><tspan x="6" dy="5.2">vertragsBeginn :Date</tspan><tspan x="6" dy="5.2">vertragsEnde :Date</tspan><tspan x="6" dy="5.2">vertragsNummer :String</tspan><tspan x="6" dy="5.2">verwaltungsgebuehrenJaehrlich :Number</tspan><tspan x="6" dy="5.2">zahlungsTyp :String</tspan></text></g>

<g id="n-Wertpapiere" transform="translate(1760,771.7)"><rect class="sh" width="91" height="41.6"/><rect class="bx" width="91" height="41.6"/><circle class="ci" cx="30.7" cy="5.7" r="3.1"/><text class="cl" x="30.7" y="7.3">C</text><text class="tt" x="49.5" y="7.4">Wertpapiere</text><path class="sp" d="M0,11.3h91"/><rect class="fm" x="2.2" y="15.1" width="2.6" height="26"/><text class="f" y="17.9"><tspan x="6">aktuellerWert :Number</tspan><tspan x="6" dy="5.2">dividendenJaehrlich :Number</tspan><tspan x="6" dy="5.2">maximalAufzuloesenderWert :Number</tspan><tspan x="6" dy="5.2">vermoegensTyp :String</tspan><tspan x="6" dy="5.2">zahlungsTyp :String</tspan></text></g>

<g id="n-AusgabenMonatlich" transform="translate(1866,779.7)"><rect class="sh" width="70" height="26"/><rect class="bx" width="70" height="26"/><circle class="ci" cx="12.5" cy="5.7" r="3.1"/><text class="cl" x="12.5" y="7.3">C</text><text class="tt" x="39" y="7.4">AusgabenMonatlich</text><path class="sp" d="M0,11.3h70"/><rect class="fm" x="2.2" y="15.1" width="2.6" height="10.4"/><text class="f" y="17.9"><tspan x="6">ausgabenMonatlich :Number</tspan><tspan x="6" dy="5.2">zahlungsTyp :String</tspan></text></g>

<g id="n-Sparplaene" transform="translate(1951,771.7)"><rect class="sh" width="91" height="41.6"/><rect class="bx" width="91" height="41.6"/><circle class="ci" cx="32" cy="5.7" r="3.1"/><text class="cl" x="32" y="7.3">C</text><text class="tt" x="49.5" y="7.4">Sparplaene</text><path class="sp" d="M0,11.3h91"/><rect class="fm" x="2.2" y="15.1" width="2.6" height="26"/><text class="f" y="17.9"><tspan x="6">aktuellerWert :Number</tspan><tspan x="6" dy="5.2">beitragMonatlich :Number</tspan><tspan x="6" dy="5.2">maximalAufzuloesenderWert :Number</tspan><tspan x="6" dy="5.2">vermoegensTyp :String</tspan><tspan x="6" dy="5.2">zahlungsTyp :String</tspan></text></g>

<g id="n-Vermoegen" transform="translate(2057,777.3)"><rect class="sh" width="91" height="31.2"/><rect class="bx" width="91" height="31.2"/><circle class="ci" cx="33.2" cy="5.7" r="3.1"/><text class="cl" x="33.2" y="7.3">C</text><text class="tt" x="49.5" y="7.4">Vermoegen</text><path class="sp" d="M0,11.3h91"/><rect class="fm" x="2.2" y="15.1" width="2.6" height="15.6"/><text class="f" y="17.9"><tspan x="6">aktuellerWert :Number</tspan><tspan x="6" dy="5.2">maximalAufzuloesenderWert :Number</tspan><tspan x="6" dy="5.2">vermoegensTyp :String</tspan></text></g>

<g id="n-ImmobilieVerknuepfung" transform="translate(2162,782.3)"><rect class="sh" width="67" height="20.8"/><rect class="bx" width="67" height="20.8"/><circle class="ci" cx="5.9" cy="5.7" r="3.1"/><text class="cl" x="5.9" y="7.3">C</text><text class="tt" x="37.5" y="7.4">ImmobilieVerknuepfung</text><path class="sp" d="M0,11.3h67"/><rect class="fm" x="2.2" y="15.1" width="2.6" height="5.2"/><text class="f" y="17.9"><tspan x="6">id :String</tspan></text></g>

<g id="n-AngebotZumAntrag" transform="translate(930,307.3)"><rect class="sh" width="106" height="72.8"/><rect class="bx" width="106" height="72.8"/><circle class="ci" cx="31.8" cy="5.7" r="3.1"/><text class="cl" x="31.8" y="7.3">C</text><text class="tt" x="57" y="7.4">AngebotZumAntrag</text><path class="sp" d="M0,11.3h106"/><rect class="fm" x="2.2" y="15.1" width="2.6" height="57.2"/><text class="f" y="17.9"><tspan x="6">absicherungen :Absicherung[]</tspan><tspan x="6" dy="5.2">bausparvertraege :Bausparvertrag[]</tspan><tspan x="6" dy="5.2">beleihungsRechnung :BeleihungsRechnung[]</tspan><tspan x="6" dy="5.2">bewertungDesAngebots :String</tspan><tspan x="6" dy="5.2">bonitaet :Bonitaet[]</tspan><tspan x="6" dy="5.2">darlehen :Darlehen[]</tspan><tspan x="6" dy="5.2">erzeugtAm :Date-time</tspan><tspan x="6" dy="5.2">kennung :String</tspan><tspan x="6" dy="5.2">machbarkeitsStatus :String</tspan><tspan x="6" dy="5.2">meldungen :Meldung[]</tspan><tspan x="6" dy="5.2">_links :Links[]</tspan></text></g>

<g id="n-Bonitaet" transform="translate(789,425.3)"><rect class="sh" width="144" height="52"/><rect class="bx" width="144" height="52"/><circle class="ci" cx="61" cy="5.7" r="3.1"/><text class="cl" x="61" y="7.3">C</text><text class="tt" x="76" y="7.4">Bonitaet</text><path class="sp" d="M0,11.3h144"/><rect class="fm" x="2.2" y="15.1" width="2.6" height="36.4"/><text class="f" y="17.9"><tspan x="6">angerechneteLebensHaltungsKosten :Number</tspan><tspan x="6" dy="5.2">angerechneteRatenAllerFinanzierungsDarlehen :Number</tspan><tspan x="6" dy="5.2">bewirtschaftungsKostenAllerFremdgenutzterFlaechen :Number</tspan><tspan x="6" dy="5.2">haushaltsUeberschuss :Number</tspan><tspan x="6" dy="5.2">kreditEntscheider :ProduktAnbieter[]</tspan><tspan x="6" dy="5.2">nebenkostenAllerEigengenutzterWohnFlaechen :Number</tspan><tspan x="6" dy="5.2">produktAnbieter :ProduktAnbieter[]</tspan></text></g>

<g id="n-Meldung" transform="translate(947,432.3)"><rect class="sh" width="89" height="36.4"/><rect class="bx" width="89" height="36.4"/><circle class="ci" cx="34.8" cy="5.7" r="3.1"/><text class="cl" x="34.8" y="7.3">C</text><text class="tt" x="48.5" y="7.4">Meldung</text><path class="sp" d="M0,11.3h89"/><rect class="fm" x="2.2" y="15.1" width="2.6" height="20.8"/><text class="f" y="17.9"><tspan x="6">kategorie :String</tspan><tspan x="6" dy="5.2">kreditEntscheider :ProduktAnbieter[]</tspan><tspan x="6" dy="5.2">produktAnbieter :ProduktAnbieter[]</tspan><tspan x="6" dy="5.2">text :String</tspan></text></g>

<g id="n-BeleihungsRechnung" transform="translate(1080,432.3)"><rect class="sh" width="85" height="36.4"/><rect class="bx" width="85" height="36.4"/><circle class="ci" cx="18.8" cy="5.7" r="3.1"/><text class="cl" x="18.8" y="7.3">C</text><text class="tt" x="46.5" y="7.4">BeleihungsRechnung</text><path class="sp" d="M0,11.3h85"/><rect class="fm" x="2.2" y="15.1" width="2.6" height="20.8"/><text class="f" y="17.9"><tspan x="6">beleihungsAuslauf :Number</tspan><tspan x="6" dy="5.2">beleihungsWerte :BeleihungsWert[]</tspan><tspan x="6" dy="5.2">beleihungsWerteSumme :Number</tspan><tspan x="6" dy="5.2">produktAnbieter :ProduktAnbieter[]</tspan></text></g>

<g id="n-VermoegenVerbindlichkeiten" transform="translate(1198,599.3)"><rect class="sh" width="144" height="20.8"/><rect class="bx" width="144" height="20.8"/><circle class="ci" cx="38" cy="5.7" r="3.1"/><text class="cl" x="38" y="7.3">C</text><text class="tt" x="76" y="7.4">VermoegenVerbindlichkeiten</text><path class="sp" d="M0,11.3h144"/><rect class="fm" x="2.2" y="15.1" width="2.6" height="5.2"/><text class="f" y="17.9"><tspan x="6">vermoegenOderVerbindlichkeiten :VermoegenVerbindlichkeit[]</tspan></text></g>

<g id="n-BestehenderBausparvertrag" transform="translate(1061,738.3)"><rect class="sh" width="97" height="109.2"/><rect class="bx" width="97" height="109.2"/><circle class="ci" cx="15.8" cy="5.7" r="3.1"/><text class="cl" x="15.8" y="7.3">C</text><text class="tt" x="52.5" y="7.4">BestehenderBausparvertrag</text><path class="sp" d="M0,11.3h97"/><rect class="fm" x="2.2" y="15.1" width="2.6" height="93.6"/><text class="f" y="17.9"><tspan x="6">abschlussGebuehr :Number</tspan><tspan x="6" dy="5.2">aktuellerWert :Number</tspan><tspan x="6" dy="5.2">bausparSumme :Number</tspan><tspan x="6" dy="5.2">einmalzahlung :Number</tspan><tspan x="6" dy="5.2">id :String</tspan><tspan x="6" dy="5.2">maximalAufzuloesenderBetrag :Number</tspan><tspan x="6" dy="5.2">produktAnbieter :ProduktAnbieter[]</tspan><tspan x="6" dy="5.2">sonderZahlungen :SonderZahlung[]</tspan><tspan x="6" dy="5.2">sparBeitragMonatlich :Number</tspan><tspan x="6" dy="5.2">tarif :String</tspan><tspan x="6" dy="5.2">typ :String</tspan><tspan x="6" dy="5.2">vermoegensEinsatz :String</tspan><tspan x="6" dy="5.2">vermoegensTyp :String</tspan><tspan x="6" dy="5.2">vertragsBeginn :Date</tspan><tspan x="6" dy="5.2">vertragsNummer :String</tspan><tspan x="6" dy="5.2">verwaltungsgebuehrenJaehrlich :Number</tspan><tspan x="6" dy="5.2">zahlungsTyp :String</tspan><tspan x="6" dy="5.2">zuteilungsDatum :Date</tspan></text></g>

<g id="n-VermoegenVerbindlichkeit" transform="translate(955,771.7)"><rect class="sh" width="91" height="41.6"/><rect class="bx" width="91" height="41.6"/><circle class="ci" cx="14.1" cy="5.7" r="3.1"/><text class="cl" x="14.1" y="7.3">C</text><text class="tt" x="49.5" y="7.4">VermoegenVerbindlichkeit</text><path class="sp" d="M0,11.3h91"/><rect class="fm" x="2.2" y="15.1" width="2.6" height="26"/><text class="f" y="17.9"><tspan x="6">aktuellerWert :Number</tspan><tspan x="6" dy="5.2">anrechnungFuerBlankoAnteil :Number</tspan><tspan x="6" dy="5.2">bezeichner :String</tspan><tspan x="6" dy="5.2">kontonummer :String</tspan><tspan x="6" dy="5.2">vermoegensTyp :String</tspan></text></g>

<g id="n-Verbindlichkeit" transform="translate(1172,766.7)"><rect class="sh" width="60" height="52"/><rect class="bx" width="60" height="52"/><circle class="ci" cx="10.1" cy="5.7" r="3.1"/><text class="cl" x="10.1" y="7.3">C</text><text class="tt" x="34" y="7.4">Verbindlichkeit</text><path class="sp" d="M0,11.3h60"/><rect class="fm" x="2.2" y="15.1" width="2.6" height="36.4"/><text class="f" y="17.9"><tspan x="6">glaeubiger :String</tspan><tspan x="6" dy="5.2">laufzeitEnde :Date</tspan><tspan x="6" dy="5.2">rateMonatlich :Number</tspan><tspan x="6" dy="5.2">restschuld :Number</tspan><tspan x="6" dy="5.2">vermoegensTyp :String</tspan><tspan x="6" dy="5.2">wirdAbgeloest :Boolean</tspan><tspan x="6" dy="5.2">zahlungsTyp :String</tspan></text></g>

<g id="n-MietAusgaben" transform="translate(1247,777.3)"><rect class="sh" width="83" height="31.2"/><rect class="bx" width="83" height="31.2"/><circle class="ci" cx="25.4" cy="5.7" r="3.1"/><text class="cl" x="25.4" y="7.3">C</text><text class="tt" x="45.5" y="7.4">MietAusgaben</text><path class="sp" d="M0,11.3h83"/><rect class="fm" x="2.2" y="15.1" width="2.6" height="15.6"/><text class="f" y="17.9"><tspan x="6">ausgabenMonatlich :Number</tspan><tspan x="6" dy="5.2">entfaelltMitFinanzierung :Boolean</tspan><tspan x="6" dy="5.2">zahlungsTyp :String</tspan></text></g>

<g id="n-EinkuenfteAusNebentaetigkeit" transform="translate(1344,777.3)"><rect class="sh" width="81" height="31.2"/><rect class="bx" width="81" height="31.2"/><circle class="ci" cx="4" cy="5.7" r="3.1"/><text class="cl" x="4" y="7.3">C</text><text class="tt" x="44.5" y="7.4">EinkuenfteAusNebentaetigkeit</text><path class="sp" d="M0,11.3h81"/><rect class="fm" x="2.2" y="15.1" width="2.6" height="15.6"/><text class="f" y="17.9"><tspan x="6">beginnDerNebentaetigkeit :Date</tspan><tspan x="6" dy="5.2">einnahmenMonatlich :Number</tspan><tspan x="6" dy="5.2">zahlungsTyp :String</tspan></text></g>

<g id="n-EinnahmenMonatlich" transform="translate(1439,779.7)"><rect class="sh" width="75" height="26"/><rect class="bx" width="75" height="26"/><circle class="ci" cx="13.8" cy="5.7" r="3.1"/><text class="cl" x="13.8" y="7.3">C</text><text class="tt" x="41.5" y="7.4">EinnahmenMonatlich</text><path class="sp" d="M0,11.3h75"/><rect class="fm" x="2.2" y="15.1" width="2.6" height="10.4"/><text class="f" y="17.9"><tspan x="6">einnahmenMonatlich :Number</tspan><tspan x="6" dy="5.2">zahlungsTyp :String</tspan></text></g>

<g id="n-ProduktAnbieter" transform="translate(853,874.3)"><rect class="sh" width="102" height="104"/><rect class="bx" width="102" height="104"/><circle class="ci" cx="31" cy="5.7" r="3.1"/><text class="cl" x="31" y="7.3">C</text><text class="tt" x="55" y="7.4">ProduktAnbieter</text><path class="sp" d="M0,11.3h102"/><rect class="fm" x="2.2" y="15.1" width="2.6" height="88.4"/><text class="f" y="17.9"><tspan x="6">anrede :String</tspan><tspan x="6" dy="5.2">anschrift :Anschrift[]</tspan><tspan x="6" dy="5.2">aufsichtsBehoerde :String</tspan><tspan x="6" dy="5.2">partnerId :String</tspan><tspan x="6" dy="5.2">partnerKennzeichen :PartnerKennzeichen[]</tspan><tspan x="6" dy="5.2">produktAnbieterId :String</tspan><tspan x="6" dy="5.2">produktAnbieterKurzName :String</tspan><tspan x="6" dy="5.2">registrierungsNummer :String</tspan><tspan x="6" dy="5.2">vertriebsOrganisation :String</tspan><tspan x="6" dy="5.2">vertriebsOrganisationsId :String</tspan><tspan x="6" dy="5.2">website :String</tspan><tspan x="6" dy="5.2">vorname :String</tspan><tspan x="6" dy="5.2">nachname :String</tspan><tspan x="6" dy="5.2">firmierung :String</tspan><tspan x="6" dy="5.2">email :String</tspan><tspan x="6" dy="5.2">telefonnummer :String</tspan><tspan x="6" dy="5.2">externerKreditSachbearbeiterId :String</tspan></text></g>

<g id="n-SonderZahlung" transform="translate(790,907.7)"><rect class="sh" width="46" height="36.4"/><rect class="bx" width="46" height="36.4"/><circle class="ci" cx="5.6" cy="5.7" r="3.1"/><text class="cl" x="5.6" y="7.3">C</text><text class="tt" x="27" y="7.4">SonderZahlung</text><path class="sp" d="M0,11.3h46"/><rect class="fm" x="2.2" y="15.1" width="2.6" height="20.8"/><text class="f" y="17.9"><tspan x="6">anzahl :Int32</tspan><tspan x="6" dy="5.2">betrag :Number</tspan><tspan x="6" dy="5.2">termin :Date</tspan><tspan x="6" dy="5.2">zahlweise :String</tspan></text></g>

<g id="n-Anschrift" transform="translate(805,1002)"><rect class="sh" width="52" height="36.4"/><rect class="bx" width="52" height="36.4"/><circle class="ci" cx="13.7" cy="5.7" r="3.1"/><text class="cl" x="13.7" y="7.3">C</text><text class="tt" x="30" y="7.4">Anschrift</text><path class="sp" d="M0,11.3h52"/><rect class="fm" x="2.2" y="15.1" width="2.6" height="20.8"/><text class="f" y="17.9"><tspan x="6">hausnummer :String</tspan><tspan x="6" dy="5.2">ort :String</tspan><tspan x="6" dy="5.2">postleitzahl :String</tspan><tspan x="6" dy="5.2">strasse :String</tspan></text></g>

<g id="n-PartnerKennzeichen" transform="translate(947,1003)"><rect class="sh" width="60" height="26"/><rect class="bx" width="60" height="26"/><circle class="ci" cx="6.3" cy="5.7" r="3.1"/><text class="cl" x="6.3" y="7.3">C</text><text class="tt" x="34" y="7.4">PartnerKennzeichen</text><path class="sp" d="M0,11.3h60"/></g>

<g id="n-Absicherung" transform="translate(276,419.3)"><rect class="sh" width="116" height="62.4"/><rect class="bx" width="116" height="62.4"/><circle class="ci" cx="43.2" cy="5.7" r="3.1"/><text class="cl" x="43.2" y="7.3">C</text><text class="tt" x="62" y="7.4">Absicherung</text><path class="sp" d="M0,11.3h116"/><rect class="fm" x="2.2" y="15.1" width="2.6" height="46.8"/><text class="f" y="17.9"><tspan x="6">abgesicherteRisiken :RisikoAbsicherung[]</tspan><tspan x="6" dy="5.2">gesamtPraemie :Number</tspan><tspan x="6" dy="5.2">praemienZahlungsweise :String</tspan><tspan x="6" dy="5.2">tarifBezeichnung :String</tspan><tspan x="6" dy="5.2">tarifKennung :String</tspan><tspan x="6" dy="5.2">versichertePersonId :String</tspan><tspan x="6" dy="5.2">versicherungsArt :String</tspan><tspan x="6" dy="5.2">versicherungsNummer :String</tspan><tspan x="6" dy="5.2">versicherungsZeitraum :VersicherungsZeitraum[]</tspan></text></g>

<g id="n-Vorhaben" transform="translate(613,427.3)"><rect class="sh" width="163" height="46.8"/><rect class="bx" width="163" height="46.8"/><circle class="ci" cx="70.5" cy="5.7" r="3.1"/><text class="cl" x="70.5" y="7.3">C</text><text class="tt" x="85.5" y="7.4">Vorhaben</text><path class="sp" d="M0,11.3h163"/><rect class="fm" x="2.2" y="15.1" width="2.6" height="31.2"/><text class="f" y="17.9"><tspan x="6">eigenleistungWennNeubauOderModernisierungsmassnahmen :Number</tspan><tspan x="6" dy="5.2">externeBausparAngebote :BausparAngebot[]</tspan><tspan x="6" dy="5.2">finanzbedarf :Finanzbedarf[]</tspan><tspan x="6" dy="5.2">nachfinanzierung :Boolean</tspan><tspan x="6" dy="5.2">nachrangigesExterneDarlehen :NachrangigesExterneDarlehen[]</tspan><tspan x="6" dy="5.2">verwendungszweck :String</tspan></text></g>

<g id="n-Darlehen" transform="translate(436,527.3)"><rect class="sh" width="124" height="166.4"/><rect class="bx" width="124" height="166.4"/><circle class="ci" cx="51" cy="5.7" r="3.1"/><text class="cl" x="51" y="7.3">C</text><text class="tt" x="66" y="7.4">Darlehen</text><path class="sp" d="M0,11.3h124"/><rect class="fm" x="2.2" y="15.1" width="2.6" height="150.8"/><text class="f" y="17.9"><tspan x="6">auszahlungsBetrag :Number</tspan><tspan x="6" dy="5.2">auszahlungsDatum :Date</tspan><tspan x="6" dy="5.2">auszahlungsKurs :Number</tspan><tspan x="6" dy="5.2">bausteinId :String</tspan><tspan x="6" dy="5.2">bereitstellung :Bereitstellung[]</tspan><tspan x="6" dy="5.2">darlehensBetrag :Number</tspan><tspan x="6" dy="5.2">darlehensTyp :String</tspan><tspan x="6" dy="5.2">detailsZurVerwendung :String</tspan><tspan x="6" dy="5.2">effektivZins :Number</tspan><tspan x="6" dy="5.2">effektivZinsRelevanteKosten :EffektivZinsKosten[]</tspan><tspan x="6" dy="5.2">einstandsDatum :Date-time</tspan><tspan x="6" dy="5.2">forwardPeriodeInMonaten :Int32</tspan><tspan x="6" dy="5.2">kfwEnergieEffizienzStandard :String</tspan><tspan x="6" dy="5.2">kfwProgramm :String</tspan><tspan x="6" dy="5.2">konditionWurdeManuellAngepasst :Boolean</tspan><tspan x="6" dy="5.2">konditionsAnpassungsBegruendung :String</tspan><tspan x="6" dy="5.2">laufzeitInJahren :Int32</tspan><tspan x="6" dy="5.2">laufzeitInMonaten :Int32</tspan><tspan x="6" dy="5.2">maximaleLaufzeitInMonaten :Int32</tspan><tspan x="6" dy="5.2">produktAnbieter :ProduktAnbieter[]</tspan><tspan x="6" dy="5.2">provision :Provision[]</tspan><tspan x="6" dy="5.2">rateMonatlich :Number</tspan><tspan x="6" dy="5.2">rateMonatlichInDerTilgungsfreienAnlaufzeit :Number</tspan><tspan x="6" dy="5.2">sollZins :Number</tspan><tspan x="6" dy="5.2">tilgung :Tilgung[]</tspan><tspan x="6" dy="5.2">tilgungsFreieAnlaufJahre :Int32</tspan><tspan x="6" dy="5.2">verwendungsZweck :String</tspan><tspan x="6" dy="5.2">zinsBindung :ZinsBindung[]</tspan><tspan x="6" dy="5.2">zinsZahlungsBeginnAm :Date</tspan></text></g>

<g id="n-VersicherungsZeitraum" transform="translate(230,594.3)"><rect class="sh" width="67" height="31.2"/><rect class="bx" width="67" height="31.2"/><circle class="ci" cx="5.9" cy="5.7" r="3.1"/><text class="cl" x="5.9" y="7.3">C</text><text class="tt" x="37.5" y="7.4">VersicherungsZeitraum</text><path class="sp" d="M0,11.3h67"/><rect class="fm" x="2.2" y="15.1" width="2.6" height="15.6"/><text class="f" y="17.9"><tspan x="6">beginn :Date</tspan><tspan x="6" dy="5.2">dauerInMonaten :Int32</tspan><tspan x="6" dy="5.2">ende :Date</tspan></text></g>

<g id="n-RisikoAbsicherung" transform="translate(310,592.3)"><rect class="sh" width="71" height="36.4"/><rect class="bx" width="71" height="36.4"/><circle class="ci" cx="13" cy="5.7" r="3.1"/><text class="cl" x="13" y="7.3">C</text><text class="tt" x="39.5" y="7.4">RisikoAbsicherung</text><path class="sp" d="M0,11.3h71"/><rect class="fm" x="2.2" y="15.1" width="2.6" height="20.8"/><text class="f" y="17.9"><tspan x="6">abgesichertesRisiko :String</tspan><tspan x="6" dy="5.2">auszahlungsBetrag :Number</tspan><tspan x="6" dy="5.2">auszahlungsTurnus :String</tspan><tspan x="6" dy="5.2">praemienAnteil :Number</tspan></text></g>

<g id="n-NachrangigesExterneDarlehen" transform="translate(613,586.3)"><rect class="sh" width="85" height="46.8"/><rect class="bx" width="85" height="46.8"/><circle class="ci" cx="7.3" cy="5.7" r="3.1"/><text class="cl" x="7.3" y="7.3">C</text><text class="tt" x="46.5" y="7.4">NachrangigesExterneDarlehen</text><path class="sp" d="M0,11.3h85"/><rect class="fm" x="2.2" y="15.1" width="2.6" height="31.2"/><text class="f" y="17.9"><tspan x="6">darlehensBetrag :Number</tspan><tspan x="6" dy="5.2">darlehensGeber :String</tspan><tspan x="6" dy="5.2">id :String</tspan><tspan x="6" dy="5.2">rateMonatlich :Number</tspan><tspan x="6" dy="5.2">typ :String</tspan><tspan x="6" dy="5.2">zinsBindung :ZinsBindung[]</tspan></text></g>

<g id="n-Finanzbedarf" transform="translate(741,558.3)"><rect class="sh" width="85" height="104"/><rect class="bx" width="85" height="104"/><circle class="ci" cx="26.4" cy="5.7" r="3.1"/><text class="cl" x="26.4" y="7.3">C</text><text class="tt" x="46.5" y="7.4">Finanzbedarf</text><path class="sp" d="M0,11.3h85"/><rect class="fm" x="2.2" y="15.1" width="2.6" height="88.4"/><text class="f" y="17.9"><tspan x="6">aussenAnlagen :Number</tspan><tspan x="6" dy="5.2">bauNebenkosten :Number</tspan><tspan x="6" dy="5.2">bereitsBeglichen :Number</tspan><tspan x="6" dy="5.2">erschliessung :Number</tspan><tspan x="6" dy="5.2">grunderwerbsteuer :Number</tspan><tspan x="6" dy="5.2">grundstueckBereitsBezahlt :Boolean</tspan><tspan x="6" dy="5.2">grundstuecksKaufpreis :Number</tspan><tspan x="6" dy="5.2">herstellung :Number</tspan><tspan x="6" dy="5.2">kapitalBeschaffung :Number</tspan><tspan x="6" dy="5.2">kaufpreis :Number</tspan><tspan x="6" dy="5.2">maklergebuehr :Number</tspan><tspan x="6" dy="5.2">mobiliar :Number</tspan><tspan x="6" dy="5.2">modernisierung :Number</tspan><tspan x="6" dy="5.2">notargebuehr :Number</tspan><tspan x="6" dy="5.2">renovierung :Number</tspan><tspan x="6" dy="5.2">sonstigeKosten :Number</tspan><tspan x="6" dy="5.2">zusaetzlichesKapital :Number</tspan></text></g>

<g id="n-Bausparvertrag" transform="translate(108,743.3)"><rect class="sh" width="88" height="98.8"/><rect class="bx" width="88" height="98.8"/><circle class="ci" cx="25.4" cy="5.7" r="3.1"/><text class="cl" x="25.4" y="7.3">C</text><text class="tt" x="48" y="7.4">Bausparvertrag</text><path class="sp" d="M0,11.3h88"/><rect class="fm" x="2.2" y="15.1" width="2.6" height="83.2"/><text class="f" y="17.9"><tspan x="6">abschlussGebuehr :Number</tspan><tspan x="6" dy="5.2">angebotsHinweisFuerAntragsteller :String</tspan><tspan x="6" dy="5.2">bausparSumme :Number</tspan><tspan x="6" dy="5.2">einmalzahlung :Number</tspan><tspan x="6" dy="5.2">gesamtLaufzeitInJahren :Int32</tspan><tspan x="6" dy="5.2">id :String</tspan><tspan x="6" dy="5.2">produktAnbieter :ProduktAnbieter[]</tspan><tspan x="6" dy="5.2">sonderZahlungen :SonderZahlung[]</tspan><tspan x="6" dy="5.2">sparPhase :SparPhase[]</tspan><tspan x="6" dy="5.2">tarif :String</tspan><tspan x="6" dy="5.2">tilgungsPhase :TilgungsPhase[]</tspan><tspan x="6" dy="5.2">typ :String</tspan><tspan x="6" dy="5.2">vertragsBeginn :Date</tspan><tspan x="6" dy="5.2">vertragsNummer :String</tspan><tspan x="6" dy="5.2">verwaltungsgebuehrenJaehrlich :Number</tspan><tspan x="6" dy="5.2">zuteilungsDatum :Date</tspan></text></g>

<g id="n-EffektivZinsKosten" transform="translate(211,764.3)"><rect class="sh" width="108" height="57.2"/><rect class="bx" width="108" height="57.2"/><circle class="ci" cx="30.3" cy="5.7" r="3.1"/><text class="cl" x="30.3" y="7.3">C</text><text class="tt" x="58" y="7.4">EffektivZinsKosten</text><path class="sp" d="M0,11.3h108"/><rect class="fm" x="2.2" y="15.1" width="2.6" height="41.6"/><text class="f" y="17.9"><tspan x="6">beratungsHonorar :Number</tspan><tspan x="6" dy="5.2">grundbuchKosten :Number</tspan><tspan x="6" dy="5.2">laufendeVerwaltungskostenJaehrlich :Number</tspan><tspan x="6" dy="5.2">sonstigeKosten :Number</tspan><tspan x="6" dy="5.2">tilgungsErsatzProduktKosten :Number</tspan><tspan x="6" dy="5.2">wohnGebaeudeVersicherungsKosten :Number</tspan><tspan x="6" dy="5.2">zinssicherungsKosten :Number</tspan><tspan x="6" dy="5.2">zusatzSicherheitsKosten :Number</tspan></text></g>

<g id="n-Provision" transform="translate(334,776.7)"><rect class="sh" width="85" height="31.2"/><rect class="bx" width="85" height="31.2"/><circle class="ci" cx="30.2" cy="5.7" r="3.1"/><text class="cl" x="30.2" y="7.3">C</text><text class="tt" x="46.5" y="7.4">Provision</text><path class="sp" d="M0,11.3h85"/><rect class="fm" x="2.2" y="15.1" width="2.6" height="15.6"/><text class="f" y="17.9"><tspan x="6">europaceGebuehren :Number</tspan><tspan x="6" dy="5.2">kundenbetreuerProvision :Number</tspan><tspan x="6" dy="5.2">vertriebProvisionGesamt :Number</tspan></text></g>

<g id="n-Bereitstellung" transform="translate(432,779)"><rect class="sh" width="107" height="26"/><rect class="bx" width="107" height="26"/><circle class="ci" cx="34.9" cy="5.7" r="3.1"/><text class="cl" x="34.9" y="7.3">C</text><text class="tt" x="57.5" y="7.4">Bereitstellung</text><path class="sp" d="M0,11.3h107"/><rect class="fm" x="2.2" y="15.1" width="2.6" height="10.4"/><text class="f" y="17.9"><tspan x="6">bereitstellungsZins :Number</tspan><tspan x="6" dy="5.2">bereitstellungsZinsFreieZeitInMonaten :Int32</tspan></text></g>

<g id="n-ZinsBindung" transform="translate(553,774.3)"><rect class="sh" width="104" height="36.4"/><rect class="bx" width="104" height="36.4"/><circle class="ci" cx="37.2" cy="5.7" r="3.1"/><text class="cl" x="37.2" y="7.3">C</text><text class="tt" x="56" y="7.4">ZinsBindung</text><path class="sp" d="M0,11.3h104"/><rect class="fm" x="2.2" y="15.1" width="2.6" height="20.8"/><text class="f" y="17.9"><tspan x="6">endetAm :Date</tspan><tspan x="6" dy="5.2">jahre :Int32</tspan><tspan x="6" dy="5.2">monate :Int32</tspan><tspan x="6" dy="5.2">restschuldNachZinsBindungsEnde :Number</tspan></text></g>

<g id="n-BausparAngebot" transform="translate(698,746.3)"><rect class="sh" width="100" height="93.6"/><rect class="bx" width="100" height="93.6"/><circle class="ci" cx="31.4" cy="5.7" r="3.1"/><text class="cl" x="31.4" y="7.3">C</text><text class="tt" x="54" y="7.4">BausparAngebot</text><path class="sp" d="M0,11.3h100"/><rect class="fm" x="2.2" y="15.1" width="2.6" height="78"/><text class="f" y="17.9"><tspan x="6">abschlussGebuehr :Number</tspan><tspan x="6" dy="5.2">angebotsHinweisFuerAntragsteller :String</tspan><tspan x="6" dy="5.2">bausparSumme :Number</tspan><tspan x="6" dy="5.2">einmalzahlung :Number</tspan><tspan x="6" dy="5.2">id :String</tspan><tspan x="6" dy="5.2">produktAnbieter :ProduktAnbieter[]</tspan><tspan x="6" dy="5.2">sonderZahlungen :SonderZahlung[]</tspan><tspan x="6" dy="5.2">sparPhase :SparPhase[]</tspan><tspan x="6" dy="5.2">tarif :String</tspan><tspan x="6" dy="5.2">tilgungsPhase :TilgungsPhase[]</tspan><tspan x="6" dy="5.2">typ :String</tspan><tspan x="6" dy="5.2">vertragsBeginn :Date</tspan><tspan x="6" dy="5.2">vertragsNummer :String</tspan><tspan x="6" dy="5.2">verwaltungsgebuehrenJaehrlich :Number</tspan><tspan x="6" dy="5.2">zuteilungsDatum :Date</tspan></text></g>

<g id="n-TilgungsPhase" transform="translate(338,907.3)"><rect class="sh" width="85" height="36.4"/><rect class="bx" width="85" height="36.4"/><circle class="ci" cx="25.1" cy="5.7" r="3.1"/><text class="cl" x="25.1" y="7.3">C</text><text class="tt" x="46.5" y="7.4">TilgungsPhase</text><path class="sp" d="M0,11.3h85"/><rect class="fm" x="2.2" y="15.1" width="2.6" height="20.8"/><text class="f" y="17.9"><tspan x="6">bausparDarlehensSumme :Number</tspan><tspan x="6" dy="5.2">sollZinsNachZuteilung :Number</tspan><tspan x="6" dy="5.2">tilgungsBeitragMonatlich :Number</tspan><tspan x="6" dy="5.2">tilgungsPhaseInJahren :Int32</tspan></text></g>

<g id="n-SparPhase" transform="translate(698,910)"><rect class="sh" width="78" height="31.2"/><rect class="bx" width="78" height="31.2"/><circle class="ci" cx="26.7" cy="5.7" r="3.1"/><text class="cl" x="26.7" y="7.3">C</text><text class="tt" x="43" y="7.4">SparPhase</text><path class="sp" d="M0,11.3h78"/><rect class="fm" x="2.2" y="15.1" width="2.6" height="15.6"/><text class="f" y="17.9"><tspan x="6">guthabenBeiZuteilung :Number</tspan><tspan x="6" dy="5.2">sparBeitragMonatlich :Number</tspan><tspan x="6" dy="5.2">sparPhaseInJahren :Int32</tspan></text></g>
</svg>
